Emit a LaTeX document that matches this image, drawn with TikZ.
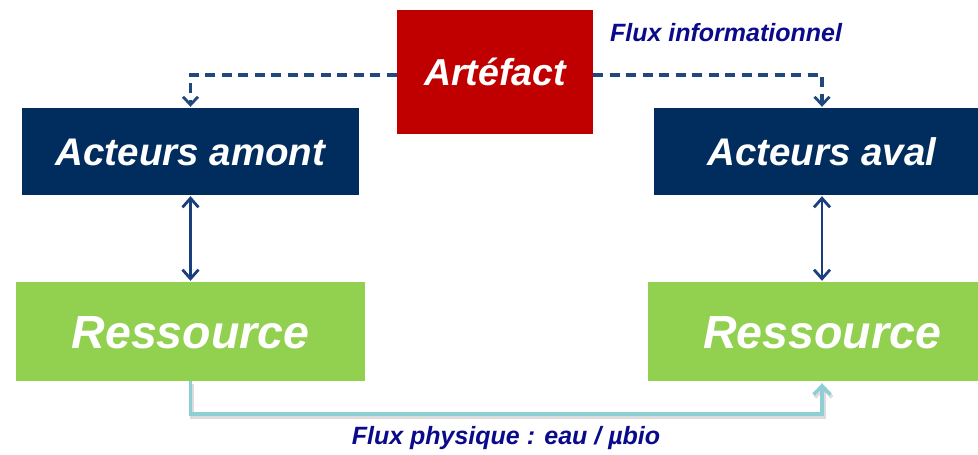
\documentclass[tikz,border=0pt]{standalone}
\usepackage{fontspec}
\setmainfont{Liberation Sans}
\usetikzlibrary{arrows.meta}
\definecolor{navybox}{HTML}{002D5E}
\definecolor{redbox}{HTML}{C00000}
\definecolor{greenbox}{HTML}{92D050}
\definecolor{infoline}{HTML}{1F497D}
\definecolor{linkline}{HTML}{1A3E7E}
\definecolor{physline}{HTML}{8DCFD3}
\definecolor{labelblue}{HTML}{0A0A8C}
\tikzset{
  box/.style={rectangle, inner sep=0pt, text=white},
  actbox/.style={box, fill=navybox, minimum width=337pt, minimum height=87pt,
    font=\fontsize{38.5}{40}\selectfont\bfseries\itshape,
    text height=27.7pt, text depth=0pt},
  resbox/.style={box, fill=greenbox, minimum width=349pt, minimum height=99pt,
    font=\fontsize{46.5}{48}\selectfont\bfseries\itshape,
    text height=33.5pt, text depth=0pt},
  artbox/.style={box, fill=redbox, minimum width=196pt, minimum height=124pt,
    font=\fontsize{37.5}{40}\selectfont\bfseries\itshape,
    text height=27pt, text depth=0pt},
  info/.style={draw=infoline, line width=3.2pt, dash pattern=on 10pt off 6.5pt,
    -{Straight Barb[length=8pt, width=15pt, line width=2.8pt]}},
  link/.style={draw=linkline, line width=2.8pt,
    {Straight Barb[length=9pt, width=16pt, line width=2.8pt]}-{Straight Barb[length=9pt, width=16pt, line width=2.8pt]}},
  phys/.style={draw=physline, line width=3.6pt, line join=miter,
    -{Straight Barb[length=9pt, width=17pt, line width=3.4pt]}},
  physshadow/.style={draw=black!45, opacity=0.3, line width=4pt,
    -{Straight Barb[length=9pt, width=17pt, line width=3.6pt]}},
  flowlabel/.style={text=labelblue, font=\fontsize{25}{28}\selectfont\bfseries\itshape}
}
\begin{document}
\begin{tikzpicture}[x=1pt, y=-1pt]
  \useasboundingbox (0,0) rectangle (978,455);
  \clip (0,0) rectangle (978,455);

  % boxes
  \node[artbox] (art) at (495,72) {Artéfact};
  \node[actbox] (amont) at (190.5,151.5) {Acteurs amont};
  \node[actbox] (aval) at (822,151.5) {Acteurs aval};
  \node[resbox] (resL) at (190.5,331.5) {Ressource};
  \node[resbox] (resR) at (822,331.5) {Ressource};

  % information flow from the artefact
  \draw[info] ([yshift=-3pt]art.west) -| ([yshift=1pt]amont.north);
  \draw[info] ([yshift=-3pt]art.east) -| ([yshift=1pt]aval.north);

  % actors <-> resource
  \draw[link] ([yshift=-1pt]amont.south) -- ([yshift=1pt]resL.north);
  \draw[link] ([yshift=-1pt]aval.south) -- ([yshift=1pt]resR.north);

  % physical flow between the two resources
  \coordinate (bendL) at ([yshift=-33pt]resL.south);
  \begin{scope}[transform canvas={xshift=1.5pt, yshift=-2.5pt}]
    \draw[physshadow] (resL.south) -- (bendL) -| ([yshift=-2pt]resR.south);
  \end{scope}
  \draw[phys] (resL.south) -- (bendL) -| ([yshift=-2pt]resR.south);

  % labels
  \node[flowlabel] (infolabel) at (726,33) {Flux informationnel};
  \node[flowlabel] (physlabel) at (506,438) {Flux physique : eau / µbio};
\end{tikzpicture}
\end{document}
